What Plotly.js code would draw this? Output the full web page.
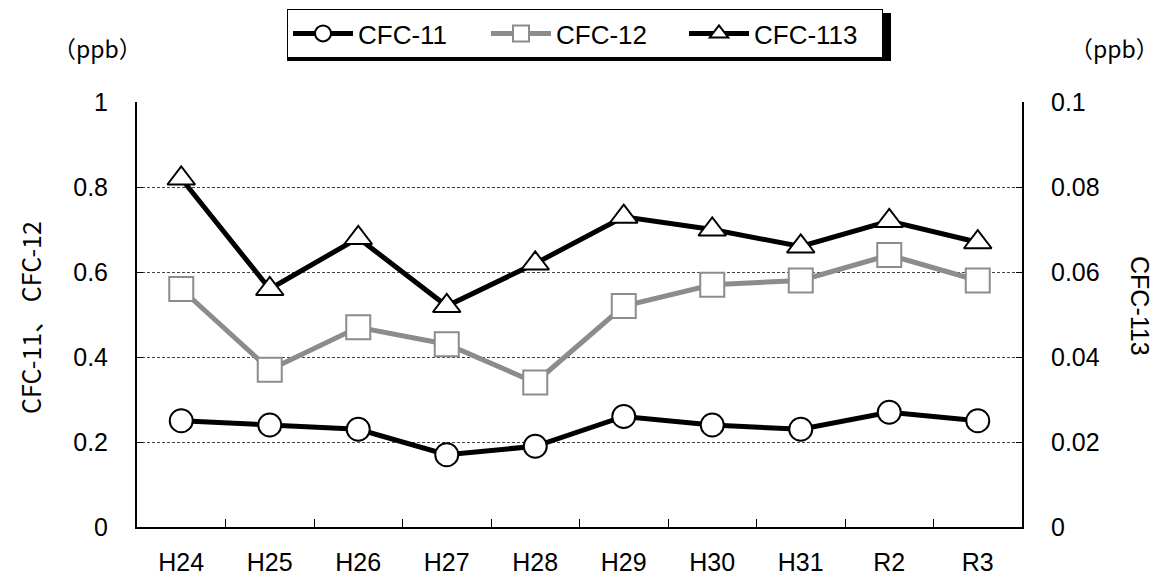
<!DOCTYPE html>
<html>
<head>
<meta charset="utf-8">
<script src="https://cdn.plot.ly/plotly-3.0.1.min.js"></script>
<style>html,body{margin:0;padding:0;background:#fff;}#chart{width:1162px;height:579px;}</style>
</head>
<body>
<div id="chart"></div>
<script>
const categories = ["H24","H25","H26","H27","H28","H29","H30","H31","R2","R3"];
const cfc11 = [0.25,0.24,0.23,0.17,0.19,0.26,0.24,0.23,0.27,0.25];
const cfc12 = [0.56,0.37,0.47,0.43,0.34,0.52,0.57,0.58,0.64,0.58];
const cfc113 = [0.082,0.056,0.068,0.052,0.062,0.073,0.070,0.066,0.072,0.067];
const leftTicks = [0,0.2,0.4,0.6,0.8,1];
const rightTicks = [0,0.02,0.04,0.06,0.08,0.1];

const FONT = "Liberation Sans, Arial, sans-serif";
const JFONT = "Noto Sans CJK JP, sans-serif";

const traces = [
  {x: categories, y: cfc11, name: "CFC-11", type: "scatter", mode: "lines+markers",
   line: {color: "#000", width: 5},
   marker: {symbol: "circle", size: 23, color: "#fff", line: {color: "#000", width: 2}}},
  {x: categories, y: cfc12, name: "CFC-12", type: "scatter", mode: "lines+markers",
   line: {color: "#8c8c8c", width: 5},
   marker: {symbol: "square", size: 24, color: "#fff", line: {color: "#8c8c8c", width: 2}}},
  {x: categories, y: cfc113, name: "CFC-113", type: "scatter", mode: "lines+markers", yaxis: "y2",
   line: {color: "#000", width: 5},
   marker: {symbol: "triangle-up", size: 24, color: "#fff", line: {color: "#000", width: 2}}}
];

const layout = {
  width: 1162, height: 579,
  margin: {l: 137, r: 140, t: 102, b: 52},
  paper_bgcolor: "#fff", plot_bgcolor: "#fff",
  font: {family: FONT, size: 25, color: "#000"},
  showlegend: true,
  legend: {orientation: "h", xref: "container", yref: "container", x: 585 / 1162, xanchor: "center",
    y: 1 - 9 / 579, yanchor: "top",
    bgcolor: "#fff", bordercolor: "#000", borderwidth: 1, itemwidth: 60,
    font: {family: FONT, size: 26, color: "#000"}, entrywidth: 123, entrywidthmode: "pixels", tracegroupgap: 0},
  xaxis: {type: "category", range: [-0.5, 9.5], showline: true, linecolor: "#000", linewidth: 2,
    ticks: "inside", tickson: "boundaries", ticklen: 8, tickcolor: "#000", tickwidth: 1,
    showgrid: false, zeroline: false, ticklabelstandoff: 12,
    tickfont: {family: FONT, size: 25}},
  yaxis: {range: [0, 1], tickvals: leftTicks, ticktext: leftTicks.map(String),
    showline: true, linecolor: "#000", linewidth: 2,
    ticks: "inside", ticklen: 6, tickcolor: "#000", tickwidth: 1,
    showgrid: true, gridcolor: "#444", gridwidth: 1, griddash: "3px,2px",
    zeroline: false, ticklabelstandoff: 22, tickfont: {family: FONT, size: 25}},
  yaxis2: {range: [0, 0.1], overlaying: "y", side: "right", tickvals: rightTicks, ticktext: rightTicks.map(String),
    showline: true, linecolor: "#000", linewidth: 2,
    ticks: "inside", ticklen: 6, tickcolor: "#000", tickwidth: 1,
    showgrid: false, zeroline: false, ticklabelstandoff: 22, tickfont: {family: FONT, size: 25}},
  shapes: [
    {type: "rect", xref: "paper", yref: "paper",
     x0: (287 - 137) / 885, x1: (891 - 137) / 885, y0: (527 - 61) / 425, y1: (527 - 13) / 425,
     fillcolor: "#000", line: {width: 0}, layer: "below"}
  ],
  annotations: [
    {text: "CFC-11、 CFC-12", xref: "paper", yref: "paper", x: (30 - 137) / 885, y: (527 - 318) / 425,
     textangle: -90, showarrow: false, font: {family: JFONT, size: 25}, xanchor: "center", yanchor: "middle"},
    {text: "CFC-113", xref: "paper", yref: "paper", x: (1140 - 137) / 885, y: (527 - 306) / 425,
     textangle: 90, showarrow: false, font: {family: FONT, size: 25}, xanchor: "center", yanchor: "middle"},
    {text: "（ppb）", xref: "paper", yref: "paper", x: (97 - 137) / 885, y: (527 - 48) / 425,
     showarrow: false, font: {family: JFONT, size: 23}, xanchor: "center", yanchor: "middle"},
    {text: "（ppb）", xref: "paper", yref: "paper", x: (1114 - 137) / 885, y: (527 - 48) / 425,
     showarrow: false, font: {family: JFONT, size: 23}, xanchor: "center", yanchor: "middle"}
  ]
};

Plotly.newPlot("chart", traces, layout, {displayModeBar: false, staticPlot: true});
</script>
</body>
</html>
